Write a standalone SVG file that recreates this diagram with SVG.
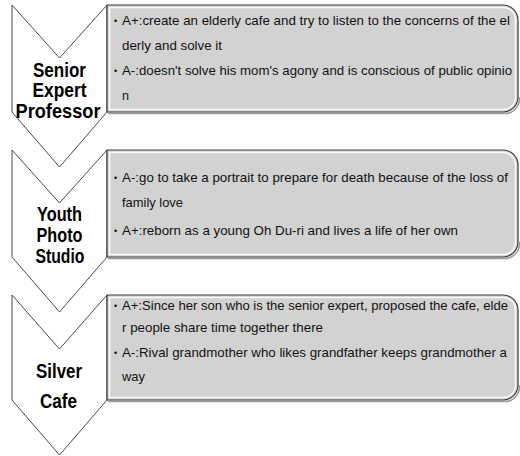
<svg xmlns="http://www.w3.org/2000/svg" width="520" height="456" viewBox="0 0 520 456">
<style>
.chev{fill:#ffffff;stroke:#4a4a4a;stroke-width:1}
.box{fill:#d2d2d2;stroke:#3c3c3c;stroke-width:1.2}
.shadow{fill:none;stroke:#9a9a9a;stroke-width:1.5}
.hl{fill:none;stroke:#ffffff;stroke-width:1.6;opacity:0.85}
.lbl{font-family:"Liberation Sans",Arial,sans-serif;font-weight:bold;font-size:20px;fill:#000;text-anchor:middle}
.t{font-family:"Liberation Sans",Arial,sans-serif;font-size:13.5px;fill:#111}
.b{font-family:"Liberation Sans",Arial,sans-serif;font-size:9px;fill:#111}
</style>
<rect width="520" height="456" fill="#ffffff"/>
<g id="connectors"/>
<g id="node-senior">
<path class="chev" d="M12,5 L59.5,58 L107,5 L107,112 L59.5,167 L12,112 Z"/>
<text class="lbl" x="59.5" y="77" textLength="53" lengthAdjust="spacingAndGlyphs">Senior</text>
<text class="lbl" x="59.5" y="97" textLength="54" lengthAdjust="spacingAndGlyphs">Expert</text>
<text class="lbl" x="58" y="118" textLength="85" lengthAdjust="spacingAndGlyphs">Professor</text>
</g>
<g id="box-senior">
<path class="shadow" d="M108,113.5 H503 A15,15 0 0 0 519.5,97"/>
<path class="box" d="M107,5 H503 A15,15 0 0 1 518,20 V97 A15,15 0 0 1 503,112 H107 Z"/>
<path class="hl" d="M109.5,7.5 H502 A12.5,12.5 0 0 1 515.5,20 V97 A12.5,12.5 0 0 1 502,109.5 H109.5 Z"/>
<text class="b" x="114" y="24">•</text>
<text class="t" x="122" y="25" textLength="388" lengthAdjust="spacingAndGlyphs">A+:create an elderly cafe and try to listen to the concerns of the el</text>
<text class="t" x="122" y="50" textLength="100" lengthAdjust="spacingAndGlyphs">derly and solve it</text>
<text class="b" x="114" y="74">•</text>
<text class="t" x="122" y="75" textLength="390" lengthAdjust="spacingAndGlyphs">A-:doesn't solve his mom's agony and is conscious of public opinio</text>
<text class="t" x="122" y="100" textLength="7" lengthAdjust="spacingAndGlyphs">n</text>
</g>
<g id="node-youth">
<path class="chev" d="M12,150 L59.5,203 L107,150 L107,257 L59.5,312 L12,257 Z"/>
<text class="lbl" x="59.5" y="221" textLength="45" lengthAdjust="spacingAndGlyphs">Youth</text>
<text class="lbl" x="59.5" y="242" textLength="46" lengthAdjust="spacingAndGlyphs">Photo</text>
<text class="lbl" x="60" y="263" textLength="49" lengthAdjust="spacingAndGlyphs">Studio</text>
</g>
<g id="box-youth">
<path class="shadow" d="M108,258.5 H503 A15,15 0 0 0 519.5,242"/>
<path class="box" d="M107,150 H503 A15,15 0 0 1 518,165 V242 A15,15 0 0 1 503,257 H107 Z"/>
<path class="hl" d="M109.5,152.5 H502 A12.5,12.5 0 0 1 515.5,165 V242 A12.5,12.5 0 0 1 502,254.5 H109.5 Z"/>
<text class="b" x="114" y="181">•</text>
<text class="t" x="122" y="182" textLength="386" lengthAdjust="spacingAndGlyphs">A-:go to take a portrait to prepare for death because of the loss of</text>
<text class="t" x="122" y="207" textLength="61" lengthAdjust="spacingAndGlyphs">family love</text>
<text class="b" x="114" y="234">•</text>
<text class="t" x="122" y="235" textLength="336" lengthAdjust="spacingAndGlyphs">A+:reborn as a young Oh Du-ri and lives a life of her own</text>
</g>
<g id="node-silver">
<path class="chev" d="M12,295 L59.5,349 L107,295 L107,400 L59.5,455 L12,400 Z"/>
<text class="lbl" x="59" y="378" textLength="46" lengthAdjust="spacingAndGlyphs">Silver</text>
<text class="lbl" x="58.5" y="408" textLength="37" lengthAdjust="spacingAndGlyphs">Cafe</text>
</g>
<g id="box-silver">
<path class="shadow" d="M108,401.5 H503 A15,15 0 0 0 519.5,385"/>
<path class="box" d="M107,295 H503 A15,15 0 0 1 518,310 V385 A15,15 0 0 1 503,400 H107 Z"/>
<path class="hl" d="M109.5,297.5 H502 A12.5,12.5 0 0 1 515.5,310 V385 A12.5,12.5 0 0 1 502,397.5 H109.5 Z"/>
<text class="b" x="114" y="309">•</text>
<text class="t" x="122" y="310" textLength="386" lengthAdjust="spacingAndGlyphs">A+:Since her son who is the senior expert, proposed the cafe, elde</text>
<text class="t" x="122" y="332" textLength="201" lengthAdjust="spacingAndGlyphs">r people share time together there</text>
<text class="b" x="114" y="356">•</text>
<text class="t" x="122" y="357" textLength="385" lengthAdjust="spacingAndGlyphs">A-:Rival grandmother who likes grandfather keeps grandmother a</text>
<text class="t" x="122" y="381" textLength="23" lengthAdjust="spacingAndGlyphs">way</text>
</g>
</svg>
